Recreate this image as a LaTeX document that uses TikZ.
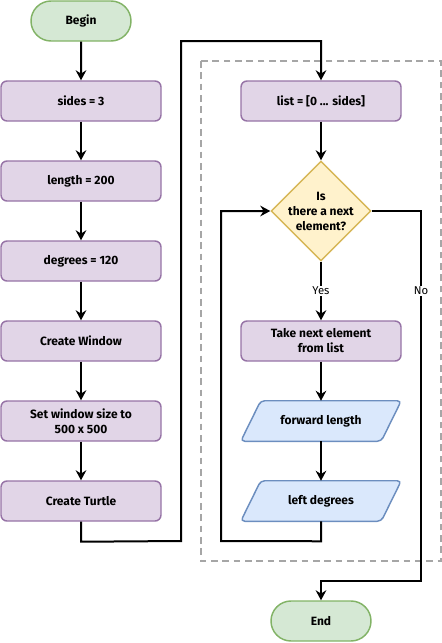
\documentclass[tikz,border=0pt]{standalone}
\usepackage{fontspec}
\setmainfont{Fira Sans}
\usetikzlibrary{shapes.misc,shapes.geometric,arrows.meta,calc}
\definecolor{greenf}{HTML}{D5E8D4}
\definecolor{greend}{HTML}{82B366}
\definecolor{purplef}{HTML}{E1D5E7}
\definecolor{purpled}{HTML}{9673A6}
\definecolor{yellowf}{HTML}{FFF2CC}
\definecolor{yellowd}{HTML}{D6B656}
\definecolor{bluef}{HTML}{DAE8FC}
\definecolor{blued}{HTML}{6C8EBF}
\definecolor{groupgray}{HTML}{A6A6A6}
\pgfdeclarelayer{background}
\pgfsetlayers{background,main}
\begin{document}
\begin{tikzpicture}[x=0.75pt,y=-0.75pt,
  txt/.style={font=\bfseries\fontsize{9}{11.25}\selectfont,align=center},
  terminal/.style={txt,rounded rectangle,draw=greend,fill=greenf,line width=1.1pt,minimum width=75pt,minimum height=30pt,inner sep=0pt},
  procbox/.style={txt,rectangle,rounded corners=4.5pt,draw=purpled,fill=purplef,line width=1.1pt,minimum width=120pt,minimum height=30pt,inner sep=0pt},
  decision/.style={diamond,draw=yellowd,fill=yellowf,line width=1.1pt,minimum width=75pt,minimum height=75pt,inner sep=0pt},
  iobox/.style={txt,rectangle,minimum width=120pt,minimum height=30pt,inner sep=0pt},
  ioshape/.style={draw=blued,fill=bluef,line width=1.1pt,rounded corners=3pt},
  conn/.style={line width=1.5pt,-{Stealth[length=7.5pt,width=8pt,inset=2.5pt]}},
  plain/.style={line width=1.5pt},
  lbl/.style={font=\fontsize{8.5}{10}\selectfont,fill=white,inner sep=1pt},
  group/.style={draw=groupgray,line width=1.5pt,dash pattern=on 5pt off 3.5pt}
]
\useasboundingbox (0,0) rectangle (442,643);
% group container
\draw[group] (201,61) rectangle (441,561);

% left column
\node[terminal] (begin) at (81,21) {Begin};
\node[procbox] (sides) at (81,101) {sides = 3};
\node[procbox] (length) at (81,181) {length = 200};
\node[procbox] (degrees) at (81,261) {degrees = 120};
\node[procbox] (window) at (81,341) {Create Window};
\node[procbox] (size) at (81,421) {Set window size to\\500 x 500};
\node[procbox] (turtle) at (81,501) {Create Turtle};

% right column
\node[procbox] (list) at (321,101) {list = [0 ... sides]};
\node[decision] (dec) at (321,211) {};
\node[txt] (dectxt) at (dec.center) {Is\\there a next\\element?};
\node[procbox] (take) at (321,341) {Take next element\\from list};
\node[iobox] (fw) at (321,421) {forward length};
\node[iobox] (ld) at (321,501) {left degrees};
\node[terminal] (end) at (321,621) {End};

\begin{pgfonlayer}{background}
\path[ioshape] ([xshift=15pt]fw.north west) -- (fw.north east) -- ([xshift=-15pt]fw.south east) -- (fw.south west) -- cycle;
\path[ioshape] ([xshift=15pt]ld.north west) -- (ld.north east) -- ([xshift=-15pt]ld.south east) -- (ld.south west) -- cycle;
\end{pgfonlayer}

% connectors
\draw[conn] (begin) -- (sides);
\draw[conn] (sides) -- (length);
\draw[conn] (length) -- (degrees);
\draw[conn] (degrees) -- (window);
\draw[conn] (window) -- (size);
\draw[conn] (size) -- (turtle);
\draw[conn] (turtle.south) -- ++(0,20) -- (181,541) -- (181,41) -| (list.north);
\draw[conn] (list) -- (dec.north);
\draw[conn] (dec.south) -- node[lbl] {Yes} (take.north);
\draw[conn] (take) -- (fw);
\draw[conn] (fw) -- (ld);
\draw[conn] (ld.south) -- ++(0,20) -- (221,541) |- (dec.west);
\draw[plain] (dec.east) -| (421,291);
\draw[conn] (421,291) -- (421,581) -| (end.north);
\node[lbl] (no) at (421,291) {No};
\end{tikzpicture}
\end{document}
